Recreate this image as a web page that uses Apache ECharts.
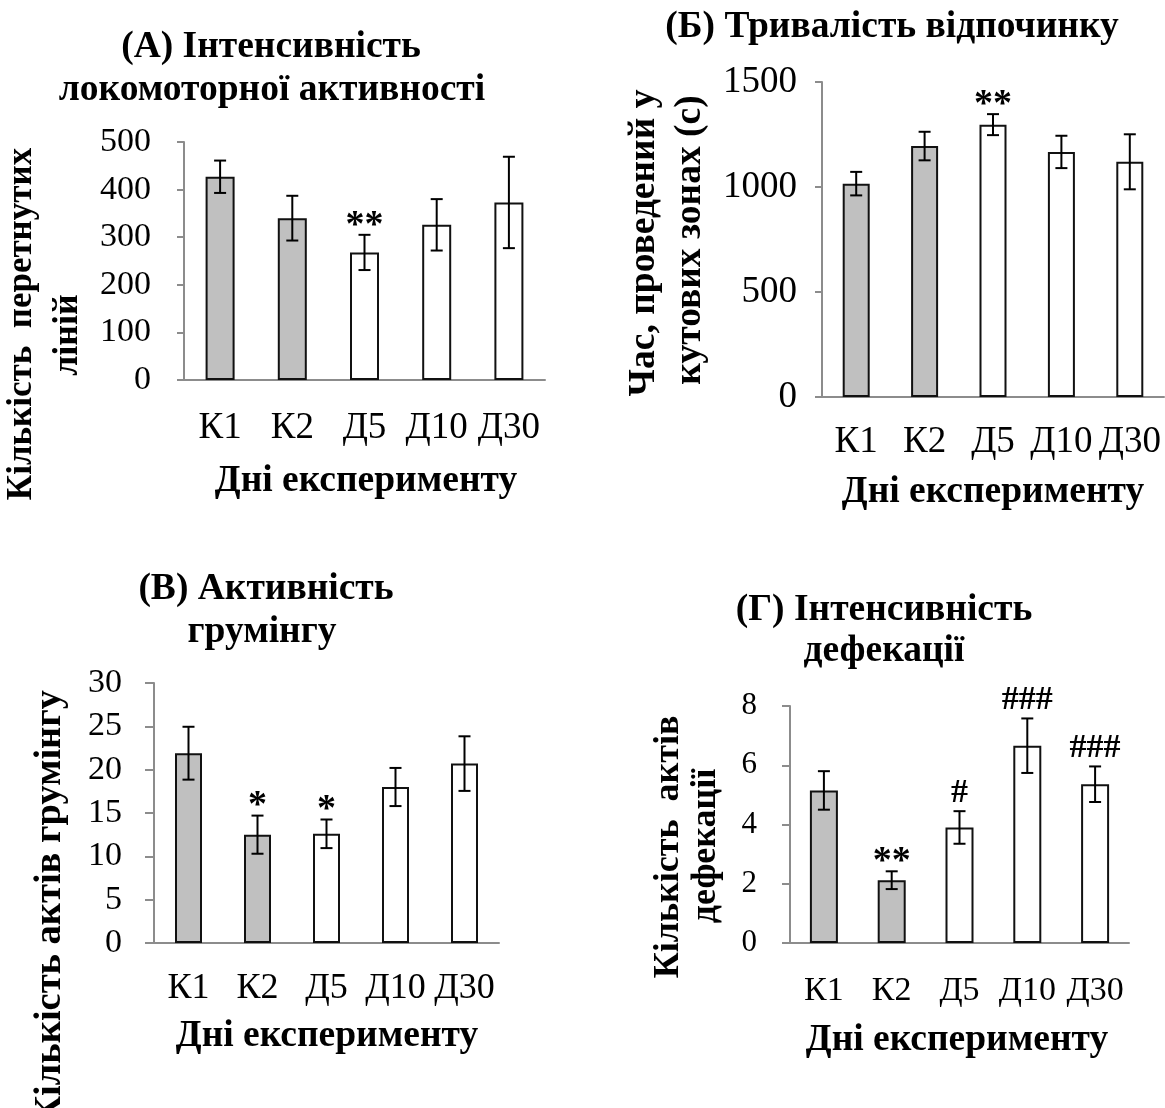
<!DOCTYPE html>
<html><head><meta charset="utf-8">
<script src="https://cdn.jsdelivr.net/npm/echarts@6/dist/echarts.min.js"></script>
<style>html,body{margin:0;padding:0;background:#fff}#c{width:1165px;height:1108px}</style>
</head><body><div id="c"></div>
<script>
// ---- data ----
const categories = ['К1', 'К2', 'Д5', 'Д10', 'Д30'];
const groups = ['control', 'control', 'exp', 'exp', 'exp'];

// (А) locomotor activity
const locoMean = [427, 340, 268, 326, 373];
const locoErr = [34, 47, 37, 54, 96];
const locoMarks = ['', '', '**', '', ''];
const locoTicks = [0, 500, 100];

// (Б) rest duration
const restMean = [1016, 1195, 1297, 1167, 1120];
const restErr = [56, 68, 50, 77, 131];
const restMarks = ['', '', '**', '', ''];
const restTicks = [0, 1500, 500];

// (В) grooming
const groomMean = [21.9, 12.5, 12.6, 18.0, 20.7];
const groomErr = [3.05, 2.2, 1.65, 2.2, 3.15];
const groomMarks = ['', '*', '*', '', ''];
const groomTicks = [0, 30, 5];

// (Г) defecation
const defMean = [5.15, 2.12, 3.9, 6.66, 5.36];
const defErr = [0.65, 0.3, 0.55, 0.92, 0.6];
const defMarks = ['', '**', '#', '###', '###'];
const defTicks = [0, 8, 2];

// ---- styling ----
const FONT = '"Liberation Serif", "Times New Roman", serif';
const groupColor = { control: '#c0c0c0', exp: '#ffffff' };
const AXIS = '#8c8c8c';

const panels = [
  { mean: locoMean, err: locoErr, marks: locoMarks, ticks: locoTicks,
    grid: { left: 184, top: 142, width: 361, height: 238 }, barWidth: 29,
    tickFont: 34, catFont: 37, labelMargin: 33, catMargin: 30, tickLen: 7 },
  { mean: restMean, err: restErr, marks: restMarks, ticks: restTicks,
    grid: { left: 822, top: 82, width: 342, height: 315 }, barWidth: 27,
    tickFont: 37, catFont: 37, labelMargin: 25, catMargin: 27, tickLen: 7 },
  { mean: groomMean, err: groomErr, marks: groomMarks, ticks: groomTicks,
    grid: { left: 154, top: 683, width: 345, height: 260 }, barWidth: 27,
    tickFont: 34, catFont: 36, labelMargin: 32, catMargin: 28, tickLen: 9 },
  { mean: defMean, err: defErr, marks: defMarks, ticks: defTicks,
    grid: { left: 790, top: 706, width: 339, height: 237 }, barWidth: 28,
    tickFont: 31, catFont: 34, labelMargin: 33, catMargin: 31, tickLen: 8 }
];

const grid = [], xAxis = [], yAxis = [], series = [];
panels.forEach((p, k) => {
  grid.push(Object.assign({ containLabel: false }, p.grid));
  xAxis.push({
    type: 'category', gridIndex: k, data: categories,
    axisLine: { lineStyle: { color: AXIS, width: 2 } },
    axisTick: { show: false },
    axisLabel: { interval: 0, color: '#000', fontFamily: FONT, fontSize: p.catFont, margin: p.catMargin }
  });
  yAxis.push({
    type: 'value', gridIndex: k, min: p.ticks[0], max: p.ticks[1], interval: p.ticks[2],
    axisLine: { show: true, lineStyle: { color: AXIS, width: 2 } },
    axisTick: { show: true, length: p.tickLen, lineStyle: { color: AXIS, width: 2 } },
    splitLine: { show: false },
    axisLabel: { color: '#000', fontFamily: FONT, fontSize: p.tickFont, margin: p.labelMargin,
                 formatter: v => String(v) }
  });
  series.push({
    type: 'bar', xAxisIndex: k, yAxisIndex: k, barWidth: p.barWidth,
    data: p.mean.map((v, i) => ({ value: v, itemStyle: { color: groupColor[groups[i]] } })),
    itemStyle: { borderColor: '#111', borderWidth: 2 },
    silent: true, z: 2
  });
  series.push({
    type: 'custom', xAxisIndex: k, yAxisIndex: k, z: 5, silent: true,
    data: p.mean.map((v, i) => [i, v, p.err[i]]),
    encode: { x: 0, y: 1 },
    renderItem: (params, api) => {
      const idx = api.value(0), m = api.value(1), e = api.value(2);
      const hi = api.coord([idx, m + e]);
      const lo = api.coord([idx, m - e]);
      const cx = hi[0], w = 6;
      const st = { stroke: '#000', lineWidth: 2 };
      const children = [
        { type: 'line', shape: { x1: cx, y1: hi[1], x2: cx, y2: lo[1] }, style: st },
        { type: 'line', shape: { x1: cx - w, y1: hi[1], x2: cx + w, y2: hi[1] }, style: st },
        { type: 'line', shape: { x1: cx - w, y1: lo[1], x2: cx + w, y2: lo[1] }, style: st }
      ];
      const mk = p.marks[idx];
      if (mk) {
        const hash = mk.indexOf('#') >= 0;
        children.push({
          type: 'text', x: cx, y: hi[1] - (hash ? 18 : 9),
          style: { text: mk, fill: '#000', fontFamily: FONT, fontWeight: 'bold', fontSize: hash ? 34 : 38,
                   align: 'center', verticalAlign: 'middle' }
        });
      }
      return { type: 'group', children };
    }
  });
});

function txt(text, x, y, size, rot, align) {
  return {
    type: 'text', x, y, rotation: rot || 0, silent: true,
    style: { text, fill: '#000', fontFamily: FONT, fontWeight: 'bold', fontSize: size,
             align: align || 'center', verticalAlign: 'middle' }
  };
}
const R = Math.PI / 2;
const graphic = [
  // titles
  txt('(А) Інтенсивність', 271, 47, 37.5),
  txt('локомоторної активності', 272, 90, 37.5),
  txt('(Б) Тривалість відпочинку', 892, 27, 37.5),
  txt('(В) Активність', 266, 589, 37.5),
  txt('грумінгу', 262, 632, 37.5),
  txt('(Г) Інтенсивність', 884, 610, 37.5),
  txt('дефекації', 884, 651, 37.5),
  // x-axis names
  txt('Дні експерименту', 366, 481, 37.5),
  txt('Дні експерименту', 993, 492, 37.5),
  txt('Дні експерименту', 327, 1036, 37.5),
  txt('Дні експерименту', 957, 1040, 37.5),
  // y-axis names
  txt('Кількість  перетнутих', 22, 324, 35, R),
  txt('ліній', 68, 335, 36, R),
  txt('Час, проведений у', 644, 243, 37.5, R),
  txt('кутових зонах (с)', 690, 240, 37.5, R),
  txt('Кількість актів грумінгу', 50, 690, 38.5, R, 'right'),
  txt('Кількість  актів', 669, 847, 36, R),
  txt('дефекації', 706, 846, 36, R)
];

const chart = echarts.init(document.getElementById('c'), null, { renderer: 'canvas' });
chart.setOption({
  animation: false,
  backgroundColor: '#fff',
  grid, xAxis, yAxis, series, graphic
});
</script>
</body></html>
